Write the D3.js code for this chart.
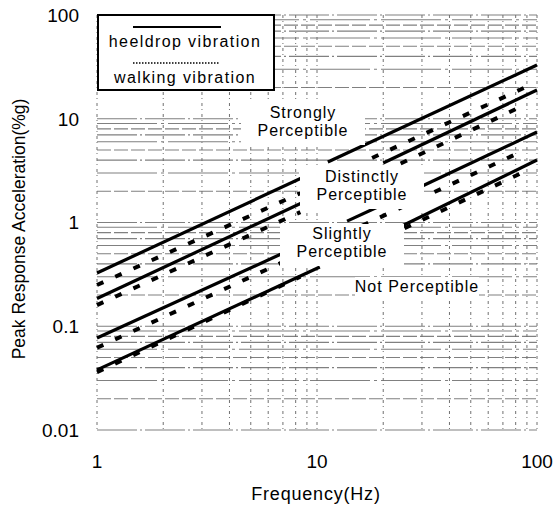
<!DOCTYPE html>
<html>
<head>
<meta charset="utf-8">
<script src="https://cdn.jsdelivr.net/npm/d3@7"></script>
<style>
  body { margin: 0; background: #fff; }
  svg text { font-family: "Liberation Sans", Arial, sans-serif; fill: #000; }
</style>
</head>
<body>
<div id="chart"></div>
<script>
// Tick values
var xTickLabels = [1, 10, 100];
var yTickLabels = [0.01, 0.1, 1, 10, 100];

// Heeldrop (solid) segments: [freq start, acc start, freq end, acc end]
var heeldropSegments = [
    [1, 0.326, 9.1, 2.87],
    [11.2, 3.83, 100, 33],
    [1, 0.185, 9.1, 1.65],
    [20, 3.75, 100, 18.9],
    [1, 0.077, 7.2, 0.52],
    [13.7, 1.03, 19.4, 1.45],
    [28.8, 2.15, 100, 7.45],
    [1, 0.038, 10.3, 0.372],
    [23.8, 0.906, 100, 4.0]
];

// Walking (dashed) segments
var walkingSegments = [
    [1, 0.25, 8.4, 1.92],
    [17.8, 4.19, 88, 20],
    [1, 0.16, 8.4, 1.26],
    [24, 3.7, 88, 13.6],
    [1, 0.062, 6.9, 0.41],
    [16, 0.93, 88, 5.0],
    [1, 0.036, 8.4, 0.30],
    [25, 0.88, 88, 3.1]
];

// Region labels
var regionLabels = [
    { lines: ["Strongly", "Perceptible"], x: 303, y: 118 },
    { lines: ["Distinctly", "Perceptible"], x: 362, y: 182 },
    { lines: ["Slightly", "Perceptible"], x: 342, y: 239 },
    { lines: ["Not Perceptible"], x: 417, y: 292 }
];

var width = 555, height = 507;

var svg = d3.select("#chart").append("svg")
    .attr("width", width)
    .attr("height", height);

var x = d3.scaleLog().domain([1, 100]).range([97, 537]);
var y = d3.scaleLog().domain([0.01, 100]).range([430, 15]);

// Grid lines (log minor)
var grid = svg.append("g").attr("class", "grid");
grid.selectAll(".hgrid")
    .data(y.ticks())
    .enter().append("line")
    .attr("x1", x(1)).attr("x2", x(100))
    .attr("y1", function(d) { return y(d); })
    .attr("y2", function(d) { return y(d); })
    .style("stroke", "#808080")
    .style("stroke-width", 1.2)
    .style("stroke-dasharray", function(d, i) { return i % 3 == 0 ? "40,3,2,3" : (i % 3 == 1 ? "14,3" : "60,4,3,4"); });

grid.selectAll(".vgrid")
    .data(x.ticks())
    .enter().append("line")
    .attr("y1", y(100)).attr("y2", y(0.01))
    .attr("x1", function(d) { return x(d); })
    .attr("x2", function(d) { return x(d); })
    .style("stroke", "#707070")
    .style("stroke-width", 1)
    .style("stroke-dasharray", "3,3,1,4");

// Label backgrounds
var lab = svg.append("g");
regionLabels.forEach(function(l) {
    lab.append("rect")
        .attr("x", l.x - 62)
        .attr("y", l.y - 15)
        .attr("width", 124)
        .attr("height", l.lines.length * 19 + 4)
        .style("fill", "#fff");
});

// Legend
var legend = svg.append("g");
legend.append("rect")
    .attr("x", 98).attr("y", 15)
    .attr("width", 176).attr("height", 75)
    .style("fill", "#fff")
    .style("stroke", "#000")
    .style("stroke-width", 2);
legend.append("line")
    .attr("x1", 133).attr("x2", 221).attr("y1", 27).attr("y2", 27)
    .style("stroke", "#000").style("stroke-width", 2);
legend.append("text")
    .attr("x", 185).attr("y", 47)
    .style("text-anchor", "middle").style("font-size", "16px").style("letter-spacing", "1.4px")
    .text("heeldrop vibration");
legend.append("line")
    .attr("x1", 133).attr("x2", 219).attr("y1", 63).attr("y2", 63)
    .style("stroke", "#000").style("stroke-width", 1.5).style("stroke-dasharray", "1.5,1.5");
legend.append("text")
    .attr("x", 185).attr("y", 83)
    .style("text-anchor", "middle").style("font-size", "16px").style("letter-spacing", "1.4px")
    .text("walking vibration");

// Data lines
function segPath(s) {
    return d3.line()([[x(s[0]), y(s[1])], [x(s[2]), y(s[3])]]);
}

svg.selectAll(".heeldrop")
    .data(heeldropSegments)
    .enter().append("path")
    .attr("class", "heeldrop")
    .attr("d", segPath)
    .style("fill", "none")
    .style("stroke", "#000")
    .style("stroke-width", 3.2);

svg.selectAll(".walking")
    .data(walkingSegments)
    .enter().append("path")
    .attr("class", "walking")
    .attr("d", segPath)
    .style("fill", "none")
    .style("stroke", "#000")
    .style("stroke-width", 4)
    .style("stroke-dasharray", "7,13");

// Region label text
regionLabels.forEach(function(l) {
    l.lines.forEach(function(t, i) {
        lab.append("text")
            .attr("x", l.x).attr("y", l.y + i * 18)
            .style("text-anchor", "middle")
            .style("font-size", "16px")
            .style("letter-spacing", "1px")
            .text(t);
    });
});
svg.node().appendChild(lab.node());

// Axis labels
svg.selectAll(".ylab")
    .data(yTickLabels)
    .enter().append("text")
    .attr("x", 79)
    .attr("y", function(d) { return y(d); })
    .attr("dy", "0.36em")
    .style("text-anchor", "end")
    .style("font-size", "19px")
    .text(function(d) { return d; });

svg.selectAll(".xlab")
    .data(xTickLabels)
    .enter().append("text")
    .attr("x", function(d) { return x(d); })
    .attr("y", 468)
    .style("text-anchor", "middle")
    .style("font-size", "19px")
    .text(function(d) { return d; });

svg.append("text")
    .attr("x", 316).attr("y", 500)
    .style("text-anchor", "middle")
    .style("font-size", "18px")
    .style("letter-spacing", "0.8px")
    .text("Frequency(Hz)");

svg.append("text")
    .attr("transform", "translate(25,229) rotate(-90)")
    .style("text-anchor", "middle")
    .style("font-size", "17.5px")
    .text("Peak Response Acceleration(%g)");
</script>
</body>
</html>
